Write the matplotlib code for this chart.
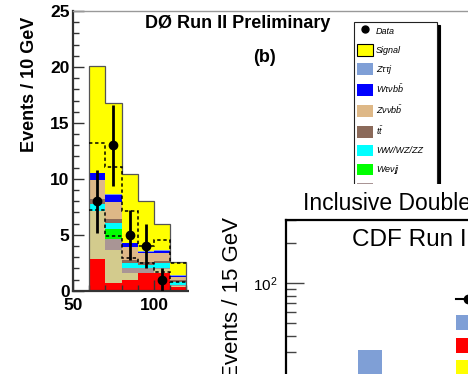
import matplotlib
matplotlib.use('Agg')
import matplotlib.pyplot as plt
from matplotlib.patches import Patch, Rectangle
from matplotlib.lines import Line2D
from matplotlib.ticker import MultipleLocator, LogLocator, NullFormatter

plt.rcParams['font.family'] = ['Liberation Sans', 'DejaVu Sans']
plt.rcParams['mathtext.fontset'] = 'custom'
plt.rcParams['mathtext.rm'] = 'Liberation Sans'
plt.rcParams['mathtext.it'] = 'Liberation Sans:italic'
plt.rcParams['mathtext.bf'] = 'Liberation Sans:bold'

# ---- D0 panel data (events per 10 GeV bin) ----
edges = [60, 70, 80, 90, 100, 110, 120]
# stacked backgrounds, bottom -> top
stack_names = ['QCD', r'W$\tau\nu$jj', r'W$\mu\nu$jj', r'We$\nu$jj', 'WW/WZ/ZZ',
               r'$t\bar{t}$', r'Z$\nu\nu b\bar{b}$', r'W$\tau\nu b\bar{b}$', r'Z$\tau\tau$j']
stack_colors = ['#ff0000', '#d3cb8d', '#a99595', '#00ff00', '#00ffff',
                '#8b6a5a', '#deb887', '#0000ff', '#7f9fd6']
qcd = [2.8, 0.72, 1.0, 1.6, 1.6, 0.36]
wtaujj = [4.3, 2.88, 0.55, 0.0, 0.3, 0.09]
wmujj = [0.0, 1.05, 0.45, 0.4, 0.15, 0.05]
wejj = [0.0, 0.85, 0.0, 0.0, 0.0, 0.0]
diboson = [0.65, 0.55, 0.45, 0.3, 0.4, 0.25]
ttbar = [0.45, 0.35, 0.25, 0.25, 0.2, 0.2]
znnbb = [1.65, 1.55, 1.2, 0.8, 0.75, 0.3]
wtnbb = [0.65, 0.6, 0.35, 0.15, 0.15, 0.1]
ztautauj = [0.05, 0.05, 0.05, 0.05, 0.05, 0.05]
signal = [9.55, 8.15, 6.15, 4.5, 2.4, 1.2]
dashed_hi = [13.2, 11.1, 7.15, 4.0, 4.5, 2.45]
dashed_lo = [7.2, 4.9, 2.9, 2.45, 1.65, 0.8]
data_x = [65, 75, 85, 95, 105]
data_y = [8, 13, 5, 4, 1]
data_err = [2.83, 3.61, 2.24, 2.0, 1.0]
d0_yticks = [0, 5, 10, 15, 20, 25]
d0_xticks = [50, 100, 150, 200, 250, 300]

# ---- CDF panel data (events per 15 GeV bin) ----
cdf_bar_x = [45]
cdf_bar_y = [30]
cdf_leg_labels = ['Data', 'Mistags', 'QCD', 'Signal']
cdf_leg_colors = ['#7f9fd6', '#ff0000', '#ffff00']

W, H = 468.0, 374.0


def box(l, t, r, b):
    return [l / W, 1 - b / H, (r - l) / W, (b - t) / H]


fig = plt.figure(figsize=(W / 100, H / 100), dpi=100)

# ===================== D0 panel =====================
ax = fig.add_axes(box(73, 11, 478, 290.7))
ax.set_xlim(50, 300)
ax.set_ylim(0, 25)

left = edges[:-1]
bottom = [0.0] * len(left)
layers = [qcd, wtaujj, wmujj, wejj, diboson, ttbar, znnbb, wtnbb, ztautauj]
for vals, col in zip(layers, stack_colors):
    ax.bar(left, vals, width=10, bottom=bottom, align='edge', color=col,
           linewidth=0, zorder=1)
    bottom = [b + v for b, v in zip(bottom, vals)]
ax.bar(left, signal, width=10, bottom=bottom, align='edge', color='#ffff00',
       linewidth=0, zorder=1)
total = [b + s for b, s in zip(bottom, signal)]
ax.stairs(total, edges, baseline=0, color='#555555', lw=0.9, zorder=2)

ax.stairs(dashed_hi, edges, baseline=None, color='k', ls=(0, (2.2, 1.8)), lw=1.1, zorder=3)
ax.stairs(dashed_lo, edges, baseline=None, color='k', ls=(0, (2.2, 1.8)), lw=1.1, zorder=3)

ax.errorbar(data_x, data_y, yerr=data_err, fmt='o', color='k', ms=6,
            elinewidth=2, capsize=0, zorder=4)

ax.set_yticks(d0_yticks)
ax.set_yticklabels([str(v) for v in d0_yticks], fontweight='bold', fontsize=12.5)
ax.set_xticks(d0_xticks)
ax.set_xticklabels([str(v) for v in d0_xticks], fontweight='bold', fontsize=12.5)
ax.yaxis.set_minor_locator(MultipleLocator(1))
ax.xaxis.set_minor_locator(MultipleLocator(10))
ax.tick_params(which='both', direction='in', colors='#333333', labelcolor='k',
               top=False, right=False)
ax.tick_params(which='major', length=8, width=1)
ax.tick_params(which='minor', length=4.5, width=1)
ax.tick_params(axis='y', pad=2.5)
ax.tick_params(axis='x', pad=5)
for s in ['left', 'bottom']:
    ax.spines[s].set_color('#333333')
    ax.spines[s].set_linewidth(1.6)
ax.spines['top'].set_color('#999999')
ax.spines['top'].set_linewidth(1.0)
ax.spines['right'].set_visible(False)

fig.text(29 / W, 1 - 84 / H, 'Events / 10 GeV', rotation=90, ha='center',
         va='center', fontweight='bold', fontsize=13)
fig.text(238 / W, 1 - 23 / H, 'DØ Run II Preliminary', ha='center', va='center',
         fontweight='bold', fontsize=13)
fig.text(264 / W, 1 - 58 / H, '(b)', ha='center', va='center',
         fontweight='bold', fontsize=13)

handles = [Line2D([], [], marker='o', color='k', ls='none', ms=5),
           Patch(facecolor='#ffff00', edgecolor='k', lw=0.8)]
labels = ['Data', 'Signal']
for name, col in zip(stack_names[::-1], stack_colors[::-1]):
    handles.append(Patch(facecolor=col, edgecolor='none'))
    labels.append(name)
leg = ax.legend(handles, labels, loc='upper left',
                bbox_to_anchor=(354 / W, 0.0, 83 / W, 1 - 22 / H),
                bbox_transform=fig.transFigure, mode='expand',
                borderaxespad=0, borderpad=0.3, handlelength=1.77,
                handleheight=1.66, handletextpad=0.35, labelspacing=0.77,
                prop={'style': 'italic', 'size': 6.5}, fancybox=False,
                framealpha=1, edgecolor='#222222',
                shadow={'ox': 2.2, 'oy': -2.2, 'shade': 1.0, 'alpha': 1.0})
leg.get_frame().set_linewidth(0.8)

# ===================== CDF panel =====================
canvas = Rectangle((189 / W, 0), (W - 189) / W, (H - 184) / H,
                   transform=fig.transFigure, facecolor='white',
                   edgecolor='none', zorder=2)
fig.add_artist(canvas)

fig.text(303 / W, 1 - 204 / H, 'Inclusive Double Tag', ha='left', va='center',
         fontsize=16.5, zorder=4)
fig.text(233 / W, 1 - 217 / H, 'Events / 15 GeV', rotation=90, ha='center',
         va='top', fontsize=16, zorder=4)

ax2 = fig.add_axes(box(286, 220, 606, 415))
ax2.set_zorder(3)
ax2.set_facecolor('white')
ax2.set_yscale('log')
ax2.set_ylim(10, 300)
ax2.set_xlim(0, 200)
ax2.bar(cdf_bar_x, cdf_bar_y, width=15, bottom=1, align='edge',
        color='#7f9fd6', linewidth=0)
ax2.yaxis.set_major_locator(LogLocator(base=10))
ax2.yaxis.set_minor_locator(LogLocator(base=10, subs=[2, 3, 4, 5, 6, 7, 8, 9]))
ax2.yaxis.set_minor_formatter(NullFormatter())
ax2.tick_params(axis='y', which='both', direction='in', colors='#444444',
                labelcolor='k', labelsize=11, pad=6)
ax2.tick_params(axis='y', which='major', length=13, width=1)
ax2.tick_params(axis='y', which='minor', length=7, width=1)
ax2.tick_params(axis='x', which='both', bottom=False, labelbottom=False)
for s in ['left', 'top']:
    ax2.spines[s].set_color('k')
    ax2.spines[s].set_linewidth(1.6)
ax2.spines['right'].set_visible(False)
ax2.spines['bottom'].set_visible(False)
ax2.text(352 / W, 1 - 240 / H, 'CDF Run I', transform=fig.transFigure,
         ha='left', va='center', fontsize=17.5)

cdf_handles = [Line2D([], [], marker='o', color='k', ms=6, lw=1.5)]
cdf_handles += [Patch(facecolor=c, edgecolor='none') for c in cdf_leg_colors]
ax2.legend(cdf_handles, cdf_leg_labels, loc='upper left',
           bbox_to_anchor=(456 / W, 1 - 293 / H), bbox_transform=fig.transFigure,
           frameon=False, borderpad=0, borderaxespad=0, fontsize=9.4,
           handlelength=1.85, handleheight=1.38, labelspacing=0.58,
           handletextpad=0.5)

fig.savefig('out.png', dpi=100)
